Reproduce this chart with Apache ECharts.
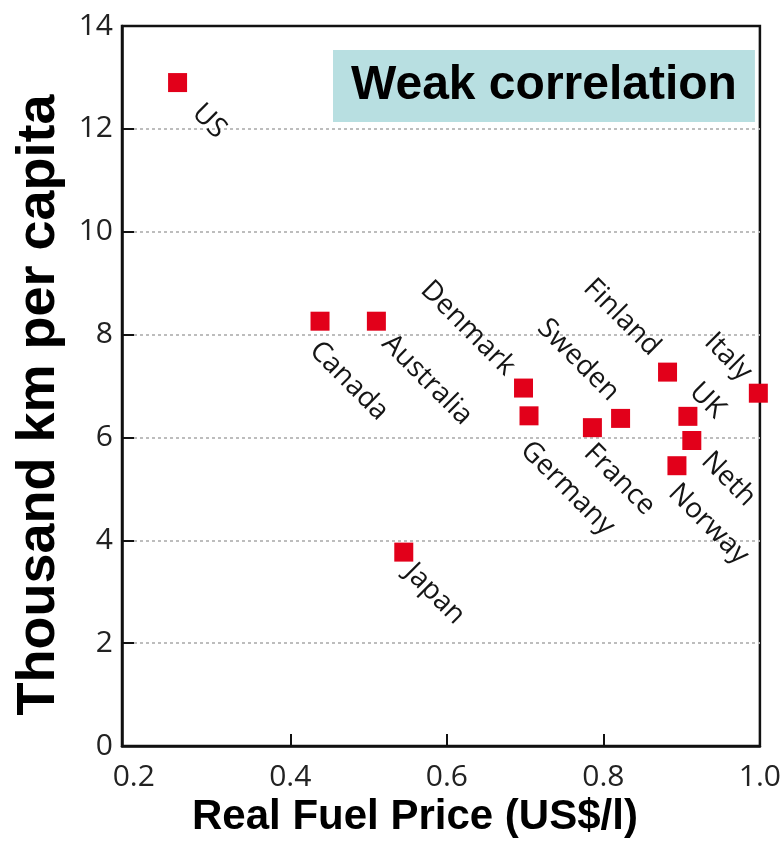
<!DOCTYPE html>
<html>
<head>
<meta charset="utf-8">
<script src="https://cdn.jsdelivr.net/npm/echarts@6/dist/echarts.min.js"></script>
<style>
  html, body { margin: 0; padding: 0; background: #fff; }
  #chart { width: 784px; height: 855px; }
</style>
</head>
<body>
<div id="chart"></div>
<script>
// ---- data ----
const countries   = ['US', 'Canada', 'Australia', 'Japan', 'Denmark', 'Germany', 'France', 'Sweden', 'Finland', 'UK', 'Netherlands', 'Norway', 'Italy'];
const fuelPrice   = [0.256, 0.438, 0.510, 0.545, 0.698, 0.705, 0.786, 0.822, 0.882, 0.908, 0.913, 0.894, 0.998];
const kmPerCapita = [12.90, 8.26, 8.26, 3.77, 6.96, 6.42, 6.19, 6.37, 7.27, 6.41, 5.94, 5.45, 6.86];
const xTickLabels = [0.2, 0.4, 0.6, 0.8, 1.0];
const xTickMarks  = [0.4, 0.6, 0.8];
const xAxisTitle  = 'Real Fuel Price (US$/l)';
const yAxisTitle  = 'Thousand km per capita';
const boxText     = 'Weak correlation';

// ---- label placement (layout only) ----
const labelLayout = {
  'US':          { dx: 19,   dy: 26,  align: 'left'  },
  'Canada':      { dx: -6,   dy: 25,  align: 'left'  },
  'Australia':   { dx: 10,   dy: 18,  align: 'left'  },
  'Japan':       { dx: 5,    dy: 16,  align: 'left'  },
  'Denmark':     { dx: -13,  dy: -17, align: 'right' },
  'Germany':     { dx: -4,   dy: 30,  align: 'left'  },
  'France':      { dx: -4,   dy: 21,  align: 'left'  },
  'Sweden':      { dx: -6,   dy: -22, align: 'right' },
  'Finland':     { dx: -12,  dy: -21, align: 'right' },
  'UK':          { dx: 6,    dy: -29, align: 'left'  },
  'Netherlands': { dx: 14,   dy: 16,  align: 'left', width: 72 },
  'Norway':      { dx: -4,   dy: 23,  align: 'left'  },
  'Italy':       { dx: -11,  dy: -17, align: 'right' }
};

const SYM = 19;
const half = SYM / 2;

const points = countries.map((name, i) => {
  const L = labelLayout[name];
  const lab = {
    position: [half + L.dx, half + L.dy],
    align: L.align
  };
  if (L.width) { lab.width = L.width; lab.overflow = 'truncate'; lab.ellipsis = ''; }
  return { name: name, value: [fuelPrice[i], kmPerCapita[i]], label: lab };
});

const chart = echarts.init(document.getElementById('chart'), null, { renderer: 'canvas' });

const tickFont = { fontFamily: 'Open Sans', fontSize: 30, color: '#222' };

chart.setOption({
  animation: false,
  backgroundColor: '#fff',
  title: {
    text: boxText,
    left: 333,
    top: 50,
    padding: [12, 18, 12, 18],
    backgroundColor: '#b8dfe1',
    textStyle: {
      fontFamily: 'Liberation Sans, Arial, sans-serif',
      fontWeight: 'bold',
      fontSize: 48,
      lineHeight: 48,
      color: '#000'
    }
  },
  grid: {
    left: 122, top: 26, width: 639, height: 720,
    show: true, borderColor: '#111', borderWidth: 2.5,
    containLabel: false
  },
  xAxis: {
    type: 'value',
    min: 0.185,
    max: 1.0,
    name: xAxisTitle,
    nameLocation: 'middle',
    nameGap: 42,
    nameTextStyle: {
      fontFamily: 'Liberation Sans, Arial, sans-serif',
      fontWeight: 'bold',
      fontSize: 42,
      color: '#000',
      padding: [0, 52, 0, 0]
    },
    axisLine: { show: true, lineStyle: { color: '#111', width: 2.5 } },
    axisTick: { show: true, inside: true, length: 12, lineStyle: { color: '#111', width: 2 }, customValues: xTickMarks },
    axisLabel: Object.assign({ margin: 16, customValues: xTickLabels, formatter: v => Number(v).toFixed(1) }, tickFont),
    splitLine: { show: false }
  },
  yAxis: {
    type: 'value',
    min: 0,
    max: 14,
    interval: 2,
    name: yAxisTitle,
    nameLocation: 'middle',
    nameRotate: 90,
    nameGap: 56,
    nameTextStyle: {
      fontFamily: 'Liberation Sans, Arial, sans-serif',
      fontWeight: 'bold',
      fontSize: 54,
      color: '#000',
      padding: [0, 38, 0, 0]
    },
    axisLine: { show: true, lineStyle: { color: '#111', width: 2.5 } },
    axisTick: { show: true, inside: true, length: 12, lineStyle: { color: '#111', width: 2 } },
    axisLabel: Object.assign({ margin: 9 }, tickFont),
    splitLine: { show: true, showMinLine: false, showMaxLine: false, lineStyle: { color: '#bdbdbd', width: 2, type: [3, 3] } }
  },
  series: [{
    type: 'scatter',
    symbol: 'rect',
    symbolSize: SYM,
    clip: false,
    itemStyle: { color: '#e2001a', opacity: 1 },
    label: {
      show: true,
      formatter: '{b}',
      rotate: -45,
      verticalAlign: 'middle',
      fontFamily: 'Open Sans',
      fontSize: 28,
      color: '#151515'
    },
    data: points
  }]
});
</script>
</body>
</html>
